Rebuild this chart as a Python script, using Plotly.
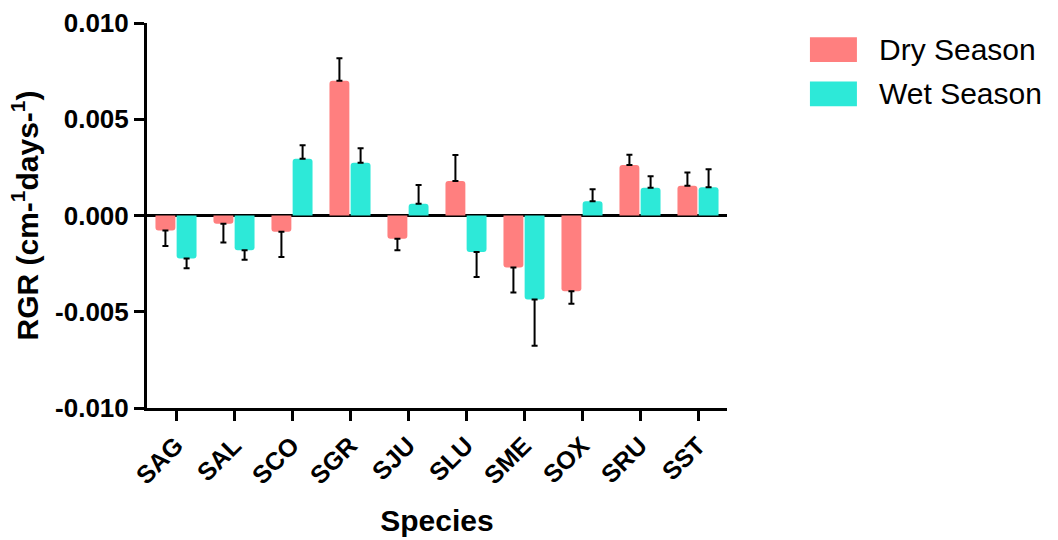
import plotly.graph_objects as go

species = ["SAG", "SAL", "SCO", "SGR", "SJU", "SLU", "SME", "SOX", "SRU", "SST"]
dry = [-0.00078, -0.00043, -0.00085, 0.0070, -0.00121, 0.00179, -0.0027, -0.00394, 0.00262, 0.00155]
dry_err = [0.0008, 0.00097, 0.0013, 0.00117, 0.0006, 0.00135, 0.0013, 0.00065, 0.00054, 0.00068]
wet = [-0.00224, -0.0018, 0.00295, 0.00274, 0.00061, -0.0019, -0.00437, 0.00074, 0.00144, 0.00147]
wet_err = [0.0005, 0.0005, 0.0007, 0.00075, 0.00097, 0.0013, 0.0024, 0.00063, 0.0006, 0.00093]
ytick_vals = [-0.010, -0.005, 0.0, 0.005, 0.010]
ytick_text = ["-0.010", "-0.005", "0.000", "0.005", "0.010"]
series_names = ["Dry Season", "Wet Season"]

DRY_C = "#FF7F7F"
WET_C = "#2DE9D8"
FONT = "Arial, Liberation Sans, sans-serif"


def one_sided(vals, errs):
    up = [e if v >= 0 else 0 for v, e in zip(vals, errs)]
    down = [e if v < 0 else 0 for v, e in zip(vals, errs)]
    return up, down


fig = go.Figure()
for name, vals, errs, col in [(series_names[0], dry, dry_err, DRY_C),
                              (series_names[1], wet, wet_err, WET_C)]:
    up, down = one_sided(vals, errs)
    fig.add_trace(go.Bar(
        x=species, y=vals, name=name,
        marker=dict(color=col, line=dict(width=0)),
        error_y=dict(type="data", symmetric=False, array=up, arrayminus=down,
                     color="black", thickness=2, width=3),
        showlegend=False,
    ))

fig.update_layout(
    width=1058, height=540,
    margin=dict(l=147, r=331, t=23, b=132, autoexpand=False),
    paper_bgcolor="white", plot_bgcolor="white",
    barmode="group", bargap=0.27, bargroupgap=0.06, barcornerradius=3,
    font=dict(family=FONT, color="black"),
)

fig.update_yaxes(
    range=[-0.010, 0.010], tickvals=ytick_vals, ticktext=ytick_text,
    showgrid=False, showline=True, linecolor="black", linewidth=3,
    ticks="outside", ticklen=10, tickwidth=3, tickcolor="black",
    tickfont=dict(family=FONT, size=26, color="black", weight="bold"),
    zeroline=True, zerolinecolor="black", zerolinewidth=3,
    title=dict(text="RGR (cm-<sup>1</sup>days-<sup>1</sup>)",
               font=dict(family=FONT, size=30, color="black", weight="bold"),
               standoff=8),
    layer="above traces",
)
fig.update_xaxes(
    range=[-0.5, 9.5], showgrid=False, showline=True, linecolor="black", linewidth=3,
    ticks="outside", ticklen=10, tickwidth=3, tickcolor="black", tickangle=-45,
    tickfont=dict(family=FONT, size=25, color="black", weight="bold"),
    title=dict(text="Species", font=dict(family=FONT, size=30, color="black", weight="bold"),
               standoff=22),
    layer="above traces",
)

# custom legend (large rounded swatches)
legend_y = [0.931, 0.816]
for name, col, yc in zip(series_names, [DRY_C, WET_C], legend_y):
    fig.add_shape(type="rect", xref="paper", yref="paper",
                  x0=1.143, x1=1.224, y0=yc - 0.032, y1=yc + 0.032,
                  fillcolor=col, line=dict(width=0), layer="above")
    fig.add_annotation(xref="paper", yref="paper", x=1.258, y=yc, text=name,
                       showarrow=False, xanchor="left", yanchor="middle",
                       font=dict(family=FONT, size=30, color="black"))

fig.write_html("out.html")
